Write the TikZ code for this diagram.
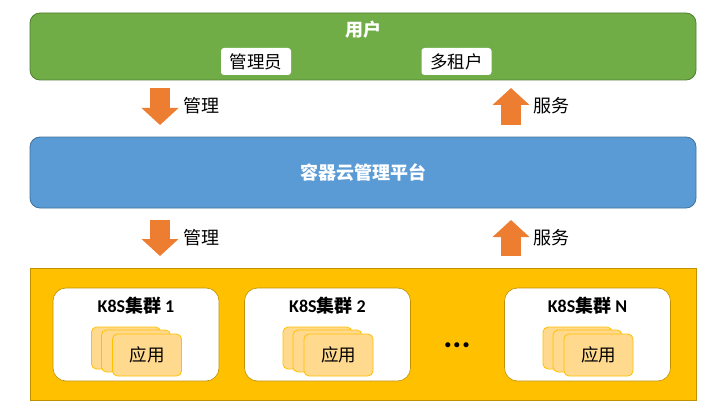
\documentclass[tikz,border=0pt]{standalone}
\usepackage{fontspec}
\setmainfont{Carlito}
\newfontfamily\cjk{Noto Sans CJK SC}
\usetikzlibrary{arrows.meta}

\definecolor{usergreen}{HTML}{70AD47}
\definecolor{usergreenD}{HTML}{507E32}
\definecolor{platblue}{HTML}{5B9BD5}
\definecolor{platblueD}{HTML}{41719C}
\definecolor{flowor}{HTML}{ED7D31}
\definecolor{k8sgold}{HTML}{FFC000}
\definecolor{k8sgoldD}{HTML}{BF9000}
\definecolor{appfill}{HTML}{FFD98E}

\tikzstyle{layer}=[rectangle,inner sep=0pt,line width=0.8pt]
\tikzstyle{rolebox}=[rectangle,rounded corners=3pt,fill=white,minimum width=70pt,minimum height=27pt,inner sep=0pt,font=\cjk\fontsize{17.5}{17.5}\selectfont]
\tikzstyle{cluster}=[rectangle,rounded corners=13pt,fill=white,draw=k8sgoldD,line width=0.6pt,minimum width=166pt,minimum height=93pt]
\tikzstyle{app}=[rectangle,rounded corners=5pt,fill=appfill,draw=k8sgold,line width=0.8pt,minimum width=69pt,minimum height=42pt,inner sep=0pt]
\tikzstyle{flow}=[draw=flowor,line width=20pt,-{Triangle[width=36pt,length=17pt]},flowor]
\tikzstyle{lbl}=[font=\cjk\fontsize{18}{18}\selectfont,anchor=west]

\begin{document}
\begin{tikzpicture}[x=1pt,y=-1pt]
	\useasboundingbox (0,0) rectangle (711,417);

	% users
	\node [layer,fill=usergreen,draw=usergreenD,rounded corners=10pt,minimum width=666pt,minimum height=67pt] (user) at (363,46.5) {};
	\node [text=white,font=\cjk\bfseries\fontsize{18}{18}\selectfont] (userT) at (363,30) {用户};
	\node [rolebox] (admin)  at (256,61.5)   {管理员};
	\node [rolebox] (tenant) at (456.5,61.5) {多租户};

	% platform
	\node [layer,fill=platblue,draw=platblueD,rounded corners=10pt,minimum width=666pt,minimum height=71pt] (plat) at (363,172.5) {};
	\node [text=white,font=\cjk\bfseries\fontsize{18}{18}\selectfont] (platT) at (363,172.5) {容器云管理平台};

	% k8s layer
	\node [layer,fill=k8sgold,draw=k8sgoldD,minimum width=666pt,minimum height=132pt] (k8s) at (363,334) {};
	\foreach \name/\cx/\num in {c1/136/1, c2/327.5/2, cN/587.5/N} {
		\node [cluster] (\name) at (\cx,334.5) {};
		\node [font=\bfseries\fontsize{18}{18}\selectfont] (\name T) at (\cx,306) {K8S{\cjk\bfseries 集群} \textbf{\num}};
		\node [app] (\name a) at ([xshift=-10pt,yshift=-13.5pt]\name.center) {};
		\node [app] (\name b) at ([xshift=0pt,yshift=-16.5pt]\name.center) {};
		\node [app,font=\cjk\fontsize{17.5}{17.5}\selectfont] (\name c) at ([xshift=11pt,yshift=-20.5pt]\name.center) {应用};
	}
	\node [font=\bfseries\fontsize{34}{34}\selectfont] (dots) at (457,345) {...};

	% flows
	\coordinate (m1s) at (160,88);  \coordinate (m1e) at (160,125);
	\coordinate (s1s) at (511,125); \coordinate (s1e) at (511,88);
	\coordinate (m2s) at (160,220); \coordinate (m2e) at (160,256);
	\coordinate (s2s) at (511,256); \coordinate (s2e) at (511,220);
	\draw [flow] (m1s) -- (m1e);
	\draw [flow] (s1s) -- (s1e);
	\draw [flow] (m2s) -- (m2e);
	\draw [flow] (s2s) -- (s2e);
	\node [lbl] (m1l) at (180,106) {管理};
	\node [lbl] (s1l) at (530,106) {服务};
	\node [lbl] (m2l) at (180,238) {管理};
	\node [lbl] (s2l) at (530,238) {服务};
\end{tikzpicture}
\end{document}
